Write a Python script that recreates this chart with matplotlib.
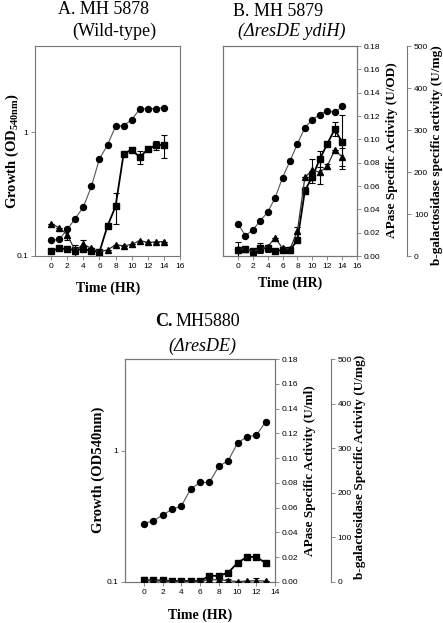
import matplotlib
matplotlib.use('Agg')
import matplotlib.pyplot as plt

W, H = 443, 623
plt.rcParams['font.family'] = ['Liberation Sans', 'DejaVu Sans']
plt.rcParams['mathtext.fontset'] = 'custom'
plt.rcParams['mathtext.rm'] = 'Liberation Serif:bold'
plt.rcParams['mathtext.bf'] = 'Liberation Serif:bold'

# ---------------- data ----------------
time_a = list(range(15))
growth_a = [0.134, 0.136, 0.164, 0.201, 0.249, 0.366, 0.61, 0.79, 1.12, 1.13, 1.27, 1.54, 1.56, 1.56, 1.59]
sq_a = [0.110, 0.115, 0.114, 0.112, 0.114, 0.110, 0.108, 0.175, 0.252, 0.67, 0.725, 0.63, 0.73, 0.79, 0.79]
sq_a_err = [0, 0, 0, 0, 0, 0, 0, 0, 0.07, 0.02, 0.02, 0.08, 0.02, 0.065, 0.17]
tri_a = [0.183, 0.169, 0.149, 0.110, 0.125, 0.115, 0.108, 0.112, 0.123, 0.121, 0.124, 0.133, 0.129, 0.130, 0.131]
tri_a_err = [0, 0, 0.015, 0.012, 0.01, 0, 0, 0, 0, 0, 0, 0, 0, 0, 0]

time_b = list(range(15))
growth_b = [0.183, 0.146, 0.162, 0.193, 0.226, 0.295, 0.431, 0.587, 0.81, 1.09, 1.27, 1.39, 1.50, 1.45, 1.62]
apase_b = [0.005, 0.006, 0.004, 0.007, 0.0065, 0.0045, 0.005, 0.005, 0.0137, 0.056, 0.068, 0.083, 0.096, 0.1086, 0.0977]
apase_b_err = [0.002, 0.002, 0.002, 0.004, 0.003, 0, 0.002, 0.002, 0.002, 0.003, 0.005, 0.007, 0.002, 0.006, 0.023]
bgal_b = [16, 16, 10, 17, 22, 44, 18, 16, 60, 187, 205, 199, 214, 252, 236]
bgal_b_err = [18, 0, 0, 8, 0, 0, 0, 0, 8, 0, 25, 28, 6, 0, 22]

time_c = list(range(14))
growth_c = [0.279, 0.292, 0.323, 0.357, 0.378, 0.51, 0.573, 0.573, 0.76, 0.84, 1.14, 1.28, 1.31, 1.66]
apase_c = [0.0013, 0.0013, 0.0013, 0.0008, 0.0008, 0.0008, 0.0008, 0.005, 0.005, 0.0075, 0.0154, 0.0202, 0.0202, 0.0154]
bgal_c = [4, 3, 3, 2, 2, 2, 2, 5, 5, 3, 1, 2, 3, 2]
bgal_c_err = [8, 5, 5, 0, 0, 0, 0, 0, 4, 3, 0, 0, 5, 0]

xticks_ab = [0, 2, 4, 6, 8, 10, 12, 14, 16]
xticks_c = [0, 2, 4, 6, 8, 10, 12, 14]
log_ticks = [0.1, 1]
log_tick_labels = ['0.1', '1']
apase_ticks = [0.00, 0.02, 0.04, 0.06, 0.08, 0.10, 0.12, 0.14, 0.16, 0.18]
bgal_ticks = [0, 100, 200, 300, 400, 500]

# ---------------- helpers ----------------
SPINE = '#777777'
SERIF = 'Liberation Serif'


def rect(l, t, r, b):
    return [l / W, 1 - b / H, (r - l) / W, (b - t) / H]


def style(ax):
    for s in ax.spines.values():
        s.set_color(SPINE)
        s.set_linewidth(0.8)
    ax.tick_params(direction='out', length=3, width=0.6, color=SPINE,
                   labelsize=6, pad=2)
    ax.minorticks_off()


def ftext(x, y, s, **kw):
    fig.text(x / W, 1 - y / H, s, ha='center', va='center', **kw)


def growth_axes(r, xlim, xticks, show_left=True):
    ax = fig.add_axes(r)
    ax.set_yscale('log')
    ax.set_ylim(0.1, 5)
    ax.set_xlim(*xlim)
    ax.set_xticks(xticks)
    ax.set_xticklabels([str(t) for t in xticks])
    style(ax)
    ax.minorticks_off()
    if show_left:
        ax.set_yticks(log_ticks)
        ax.set_yticklabels(log_tick_labels)
    else:
        ax.set_yticks([])
    return ax


def right_axes(ax, offset_pt):
    ap = ax.twinx()
    ap.set_ylim(0, 0.18)
    ap.set_yticks(apase_ticks)
    ap.set_yticklabels(['%.2f' % v for v in apase_ticks])
    style(ap)
    bg = ax.twinx()
    bg.set_ylim(0, 500)
    bg.set_yticks(bgal_ticks)
    bg.set_yticklabels([str(v) for v in bgal_ticks])
    style(bg)
    bg.spines['right'].set_position(('outward', offset_pt))
    for s in ['top', 'left', 'bottom']:
        bg.spines[s].set_visible(False)
    return ap, bg


circ_kw = dict(marker='o', ms=4.3, color='#555555', mfc='black', mec='black', lw=0.8)
sq_kw = dict(marker='s', ms=3.8, color='black', mfc='black', mec='black', lw=1.3)
tri_kw = dict(marker='^', ms=4.3, color='#333333', mfc='black', mec='black', lw=0.9)
err_kw = dict(capsize=2.5, elinewidth=0.8, ecolor='black', capthick=0.8)

fig = plt.figure(figsize=(W / 100, H / 100), dpi=100)

# ---------------- Panel A ----------------
axA = growth_axes(rect(35, 46, 180, 256), (-2, 16), xticks_ab)
axA.plot(time_a, growth_a, **circ_kw)
axA.errorbar(time_a, sq_a, yerr=sq_a_err, **sq_kw, **err_kw)
axA.errorbar(time_a, tri_a, yerr=tri_a_err, **tri_kw, **err_kw)

ftext(103, 10, 'A. MH 5878', family=SERIF, fontsize=13)
ftext(114, 31, '(Wild-type)', family=SERIF, fontsize=13)
ftext(12, 151, 'Growth (OD$_{\\mathrm{540nm}}$)', rotation=90,
      family=SERIF, fontweight='bold', fontsize=10.5)
ftext(108, 288, 'Time (HR)', family=SERIF, fontweight='bold', fontsize=10)

# ---------------- Panel B ----------------
axB = growth_axes(rect(223, 46, 357, 256), (-2, 16), xticks_ab, show_left=False)
apB, bgB = right_axes(axB, 36)
axB.plot(time_b, growth_b, **circ_kw)
apB.errorbar(time_b, apase_b, yerr=apase_b_err, **sq_kw, **err_kw)
bgB.errorbar(time_b, bgal_b, yerr=bgal_b_err, **tri_kw, **err_kw)

ftext(278, 11, 'B. MH 5879', family=SERIF, fontsize=13)
ftext(292, 31, '(\u0394resDE ydiH)', family=SERIF, fontsize=13, style='italic')
ftext(290, 283, 'Time (HR)', family=SERIF, fontweight='bold', fontsize=10)
ftext(392, 150, 'APase Specific Activity (U/OD)', rotation=90,
      family=SERIF, fontweight='bold', fontsize=9.5)
ftext(437, 155, 'b-galactosidase specific activity (U/mg)', rotation=90,
      family=SERIF, fontweight='bold', fontsize=9.5)

# ---------------- Panel C ----------------
axC = growth_axes(rect(125, 359, 275, 582), (-2, 14), xticks_c)
apC, bgC = right_axes(axC, 40)
axC.plot(time_c, growth_c, **circ_kw)
apC.plot(time_c, apase_c, **sq_kw)
bgC.errorbar(time_c, bgal_c, yerr=bgal_c_err, **tri_kw, **err_kw)

fig.text(172 / W, 1 - 322 / H, 'C.', ha='right', va='center', family=SERIF,
         fontweight='bold', fontsize=13)
fig.text(176 / W, 1 - 322 / H, 'MH5880', ha='left', va='center', family=SERIF,
         fontsize=13)
ftext(202, 346, '(\u0394resDE)', family=SERIF, fontsize=13, style='italic')
ftext(98, 470, 'Growth (OD540nm)', rotation=90, family=SERIF,
      fontweight='bold', fontsize=10.5)
ftext(200, 615, 'Time (HR)', family=SERIF, fontweight='bold', fontsize=10)
ftext(310, 471, 'APase Specific Activity (U/ml)', rotation=90,
      family=SERIF, fontweight='bold', fontsize=9.5)
ftext(360, 467, 'b-galactosidase Specific Activity (U/mg)', rotation=90,
      family=SERIF, fontweight='bold', fontsize=9.5)

fig.savefig('out.png', dpi=100)
